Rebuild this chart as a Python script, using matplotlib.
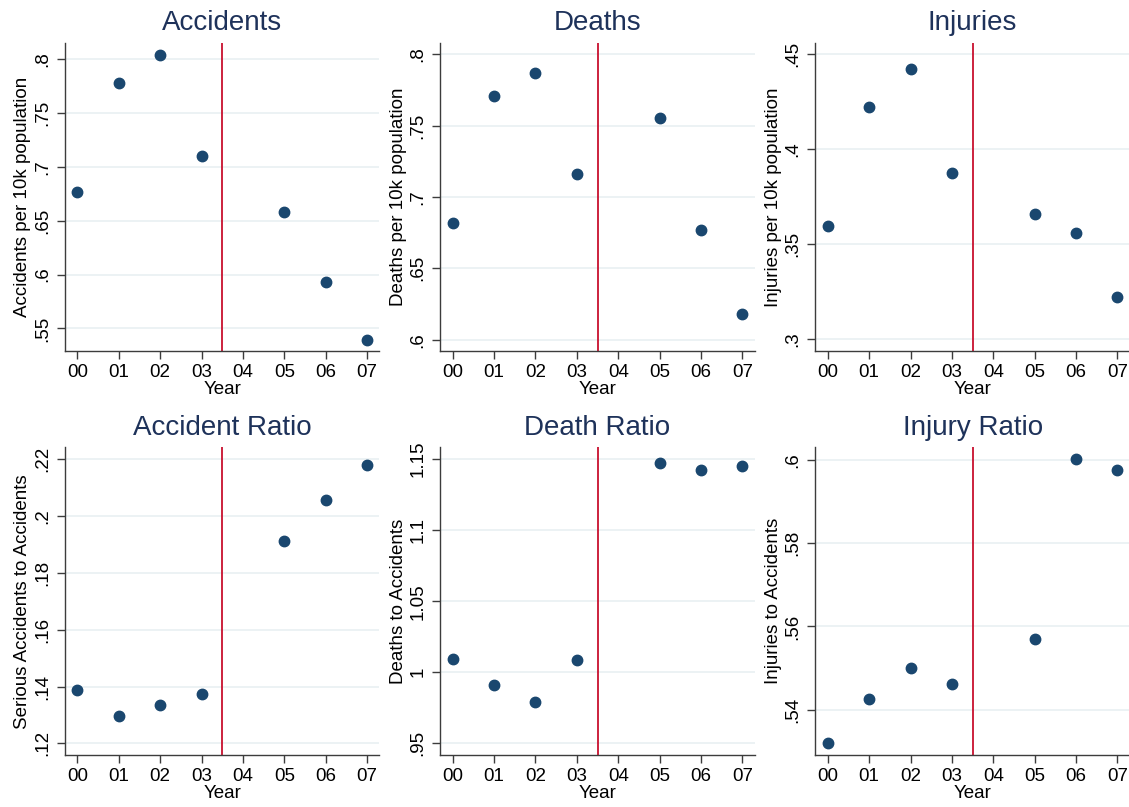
import matplotlib
matplotlib.use("Agg")
import matplotlib.pyplot as plt
from matplotlib.ticker import FuncFormatter

plt.rcParams['font.family'] = ['Liberation Sans', 'DejaVu Sans']

# data
year_labels = ["00", "01", "02", "03", "04", "05", "06", "07"]
years = [0, 1, 2, 3, 5, 6, 7]

accidents = [0.677, 0.778, 0.804, 0.710, 0.658, 0.593, 0.539]
deaths = [0.682, 0.771, 0.787, 0.716, 0.755, 0.677, 0.618]
injuries = [0.3596, 0.422, 0.442, 0.3876, 0.366, 0.3557, 0.3224]
accident_ratio = [0.1387, 0.1298, 0.1336, 0.1374, 0.1911, 0.2057, 0.2179]
death_ratio = [1.0092, 0.9912, 0.979, 1.009, 1.1472, 1.1423, 1.1453]
injury_ratio = [0.5319, 0.5426, 0.5501, 0.5462, 0.5569, 0.6002, 0.5975]

titles = ["Accidents", "Deaths", "Injuries",
          "Accident Ratio", "Death Ratio", "Injury Ratio"]
ylabels = ["Accidents per 10k population", "Deaths per 10k population",
           "Injuries per 10k population", "Serious Accidents to Accidents",
           "Deaths to Accidents", "Injuries to Accidents"]
yticks = [[0.55, 0.6, 0.65, 0.7, 0.75, 0.8],
          [0.6, 0.65, 0.7, 0.75, 0.8],
          [0.3, 0.35, 0.4, 0.45],
          [0.12, 0.14, 0.16, 0.18, 0.2, 0.22],
          [0.95, 1.0, 1.05, 1.1, 1.15],
          [0.54, 0.56, 0.58, 0.6]]
ylims = [(0.529, 0.815), (0.592, 0.808), (0.2938, 0.456),
         (0.1158, 0.2242), (0.9416, 1.1584), (0.529, 0.6031)]
series = [accidents, deaths, injuries, accident_ratio, death_ratio, injury_ratio]

cutoff = 3.5

navy = "#1a476f"
title_col = "#1e325a"
red = "#c8102e"
grid_col = "#eaf1f3"
spine_col = "#3c3c3c"


def stata_fmt(v, pos):
    s = f"{v:g}"
    if s.startswith("0."):
        s = s[1:]
    return s


fig = plt.figure(figsize=(11.29, 8.07), dpi=100)

lefts = [0.0576, 0.390, 0.7222]
bottoms = [0.565, 0.064]
w, h = 0.2785, 0.382

for i in range(6):
    r, c = divmod(i, 3)
    ax = fig.add_axes([lefts[c], bottoms[r], w, h])
    ax.plot(years, series[i], "o", color=navy, ms=7.5, zorder=3)
    ax.axvline(cutoff, color=red, lw=1.3, zorder=2)
    ax.set_xlim(-0.3, 7.3)
    ax.set_ylim(*ylims[i])
    ax.set_xticks(range(len(year_labels)))
    ax.set_xticklabels(year_labels)
    ax.set_yticks(yticks[i])
    ax.yaxis.set_major_formatter(FuncFormatter(stata_fmt))
    ax.grid(axis="y", color=grid_col, lw=1.3, zorder=0)
    ax.set_axisbelow(True)
    for s in ["top", "right"]:
        ax.spines[s].set_visible(False)
    for s in ["left", "bottom"]:
        ax.spines[s].set_color(spine_col)
        ax.spines[s].set_linewidth(1.0)
    ax.tick_params(axis="both", colors=spine_col, length=6, width=1.0,
                   labelsize=13.5, labelcolor="black")
    ax.tick_params(axis="x", pad=3)
    ax.tick_params(axis="y", pad=4)
    for lab in ax.get_yticklabels():
        lab.set_rotation(90)
        lab.set_va("center")
    ax.set_title(titles[i], fontsize=20, color=title_col, pad=9)
    ax.set_xlabel("Year", fontsize=13.5, labelpad=0)
    ax.set_ylabel(ylabels[i], fontsize=13.5, labelpad=2)

fig.savefig("out.png", dpi=100, facecolor="white")
